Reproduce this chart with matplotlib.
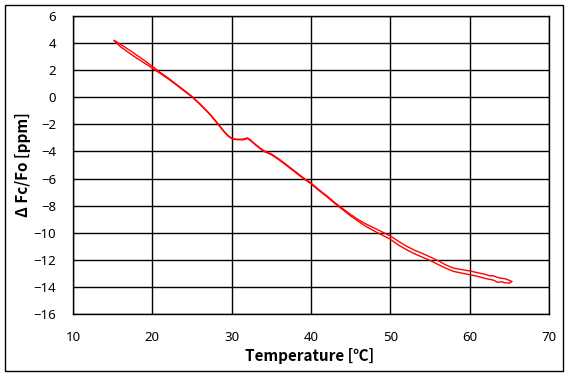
import matplotlib
matplotlib.use("Agg")
import matplotlib.pyplot as plt
from matplotlib.patches import Rectangle

plt.rcParams['font.family'] = ['Noto Sans', 'Noto Sans CJK KR', 'DejaVu Sans']

# Heating branch (temperature, ppm)
heat_x = [15.2, 15.6, 16.0, 16.5, 17.0, 17.5, 18.0, 18.5, 19.0, 19.5, 20.0, 21.0, 22.0, 23.0,
          24.0, 25.0, 26.0, 27.0, 27.5, 28.0, 28.5, 29.0, 29.5, 30.0, 30.5, 31.0, 31.5, 32.0,
          32.5, 33.0, 34.0, 35.0, 36.0, 37.0, 38.0, 39.0, 40.0, 41.0, 42.0, 43.0, 44.0, 45.0,
          46.0, 47.0, 48.0, 49.0, 50.0, 51.0, 52.0, 53.0, 54.0, 55.0, 56.0, 57.0, 58.0, 59.0,
          60.0, 61.0, 62.0, 62.5, 63.0, 63.5, 64.0, 64.5, 65.0, 65.3]
heat_y = [4.20, 4.05, 3.90, 3.72, 3.52, 3.33, 3.12, 2.92, 2.72, 2.50, 2.28, 1.83, 1.42, 0.97,
          0.52, 0.06, -0.48, -1.08, -1.40, -1.75, -2.12, -2.48, -2.80, -3.02, -3.10, -3.10, -3.08, -3.00,
          -3.22, -3.48, -3.93, -4.18, -4.58, -5.02, -5.47, -5.93, -6.33, -6.83, -7.28, -7.78, -8.22, -8.66,
          -9.05, -9.38, -9.66, -9.95, -10.24, -10.62, -10.98, -11.28, -11.52, -11.78, -12.06, -12.38, -12.62, -12.72,
          -12.82, -12.95, -13.08, -13.18, -13.18, -13.30, -13.36, -13.40, -13.52, -13.60]

# Cooling branch (temperature, ppm)
cool_x = [65.3, 65.0, 64.5, 64.0, 63.5, 63.0, 62.0, 61.0, 60.0, 59.0, 58.0, 57.0, 56.0, 55.0,
          54.0, 53.0, 52.0, 51.0, 50.0, 49.0, 48.0, 47.0, 46.0, 45.0, 44.0, 43.0, 42.0, 41.0,
          40.0, 39.0, 38.0, 37.0, 36.0, 35.0, 34.0, 33.0, 32.5, 32.0, 31.5, 31.0, 30.5, 30.0,
          29.5, 29.0, 28.5, 28.0, 27.5, 27.0, 26.0, 25.0, 24.0, 23.0, 22.0, 21.0, 20.0, 19.5,
          19.0, 18.5, 18.0, 17.5, 17.0, 16.5, 16.0, 15.6, 15.2]
cool_y = [-13.60, -13.72, -13.70, -13.62, -13.66, -13.50, -13.38, -13.22, -13.10, -12.98, -12.86, -12.62, -12.34, -12.04,
          -11.80, -11.54, -11.24, -10.90, -10.48, -10.18, -9.88, -9.56, -9.18, -8.76, -8.30, -7.84, -7.34, -6.88,
          -6.39, -5.98, -5.53, -5.08, -4.63, -4.24, -3.98, -3.52, -3.26, -3.04, -3.14, -3.14, -3.12, -3.06,
          -2.84, -2.52, -2.16, -1.80, -1.44, -1.12, -0.52, 0.02, 0.47, 0.92, 1.36, 1.76, 2.14, 2.34,
          2.52, 2.72, 2.90, 3.10, 3.30, 3.52, 3.72, 3.96, 4.15]

x_ticks = [10, 20, 30, 40, 50, 60, 70]
y_ticks = [6, 4, 2, 0, -2, -4, -6, -8, -10, -12, -14, -16]

fig = plt.figure(figsize=(5.69, 3.79), dpi=100)
fig.patches.append(Rectangle((5 / 569, 8 / 379), 558 / 569, 366 / 379, transform=fig.transFigure,
                             fill=False, edgecolor='black', linewidth=1.0))

ax = fig.add_axes([73 / 569, 65 / 379, 476 / 569, 298 / 379])
ax.plot(heat_x, heat_y, color='red', linewidth=1.0)
ax.plot(cool_x, cool_y, color='red', linewidth=1.0)

ax.set_xlim(10, 70)
ax.set_ylim(-16, 6)
ax.set_xticks(x_ticks)
ax.set_yticks(y_ticks)
ax.grid(True, color='black', linewidth=1.0)
ax.set_axisbelow(True)
for s in ax.spines.values():
    s.set_color('black')
    s.set_linewidth(1.0)
ax.tick_params(length=0, labelsize=9.5, pad=12)

lab_fam = ['Noto Sans CJK KR', 'DejaVu Sans']
ax.set_xlabel('Temperature [℃]', fontsize=11, fontweight='bold', family=lab_fam, va='center')
ax.set_ylabel('Δ Fc/Fo [ppm]', fontsize=11, fontweight='bold', family=lab_fam, va='center')
ax.xaxis.set_label_coords((310 - 73) / 476, (23 - 65) / 298)
ax.yaxis.set_label_coords((23 - 73) / 476, 0.5)

fig.savefig('out.png', dpi=100)
